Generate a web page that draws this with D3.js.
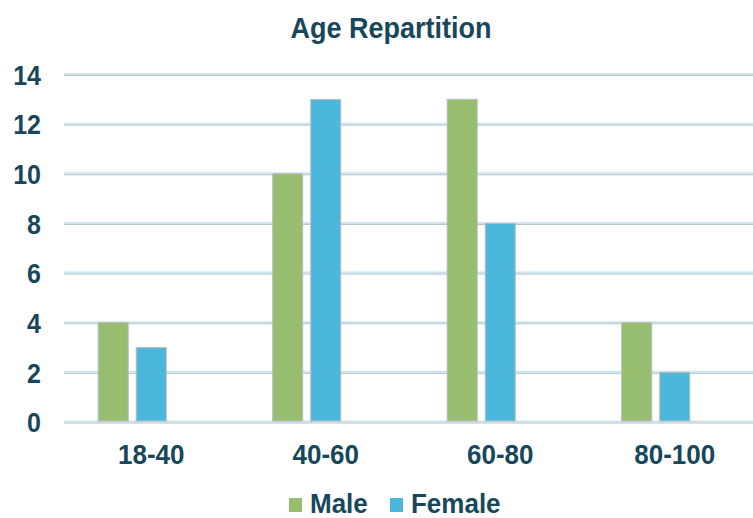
<!DOCTYPE html>
<html>
<head>
<meta charset="utf-8">
<script src="https://cdn.jsdelivr.net/npm/d3@7"></script>
<style>
  html, body { margin: 0; padding: 0; background: #fff; }
  svg { display: block; font-family: "Liberation Sans", Arial, sans-serif; font-weight: bold; }
</style>
</head>
<body>
<svg id="chart" width="753" height="518"></svg>
<script>
// Age groups along the x axis
const categories = ["18-40", "40-60", "60-80", "80-100"];
// Series names and their counts per age group
const seriesNames = ["Male", "Female"];
const maleValues = [4, 10, 13, 4];
const femaleValues = [3, 13, 8, 2];
// Value axis ticks
const yTicks = [0, 2, 4, 6, 8, 10, 12, 14];
const titleText = "Age Repartition";

const seriesValues = [maleValues, femaleValues];
const colors = ["#96BE6E", "#4BB8DB"];
const textColor = "#17475A";
const stretch = "scale(1,1.08)";

const svg = d3.select("#chart");
const W = 753, H = 518;

// Plot region (the category bands run slightly past the right edge)
const plot = { left: 64, right: 762, top: 74.5, bottom: 422 };

const x0 = d3.scaleBand()
  .domain(categories)
  .range([plot.left, plot.right])
  .paddingInner(0.386)
  .paddingOuter(0.193);

// Three slots per cluster; the third stays empty
const x1 = d3.scaleBand()
  .domain([0, 1, 2])
  .range([0, x0.bandwidth()])
  .paddingInner(0.185);

const y = d3.scaleLinear()
  .domain([0, 14])
  .range([plot.bottom, plot.top]);

// Title
svg.append("g")
  .attr("transform", `translate(391,38) ${stretch}`)
  .append("text")
  .attr("text-anchor", "middle")
  .attr("fill", textColor)
  .style("font-size", "27px")
  .text(titleText);

// Gridlines
const grid = svg.append("g");
grid.selectAll("line.g1")
  .data(yTicks)
  .join("line")
  .attr("class", "g1")
  .attr("x1", plot.left).attr("x2", W)
  .attr("y1", d => y(d) - 0.5).attr("y2", d => y(d) - 0.5)
  .attr("stroke", "#D0E4EC")
  .attr("stroke-width", 2);
grid.selectAll("line.g2")
  .data(yTicks)
  .join("line")
  .attr("class", "g2")
  .attr("x1", plot.left).attr("x2", W)
  .attr("y1", d => y(d) + 1).attr("y2", d => y(d) + 1)
  .attr("stroke", "#AFC4CE")
  .attr("stroke-width", 1);

// Y axis labels
const yAxis = d3.axisLeft(y).tickValues(yTicks).tickSize(0).tickPadding(0);
const yg = svg.append("g")
  .attr("transform", `translate(${plot.left - 23},0)`)
  .call(yAxis);
yg.select(".domain").remove();
yg.selectAll("text")
  .attr("fill", textColor)
  .attr("dy", "0.36em")
  .attr("transform", stretch)
  .style("font-size", "25px")
  .style("font-family", "'Liberation Sans', Arial, sans-serif")
  .style("font-weight", "bold");

// Bars
const groups = svg.append("g")
  .selectAll("g")
  .data(categories)
  .join("g")
  .attr("transform", d => `translate(${x0(d)},0)`);

groups.selectAll("rect")
  .data((d, i) => seriesValues.map((vals, s) => ({ s, v: vals[i] })))
  .join("rect")
  .attr("x", d => x1(d.s) + 0.5)
  .attr("width", x1.bandwidth() - 1)
  .attr("y", d => y(d.v))
  .attr("height", d => y(0) - y(d.v) - 1)
  .attr("fill", d => colors[d.s])
  .attr("stroke", "#B8BCBE")
  .attr("stroke-width", 1);

// X axis labels
const xAxis = d3.axisBottom(x0).tickSize(0).tickPadding(0);
const xg = svg.append("g")
  .attr("transform", `translate(0,${plot.bottom + 42})`)
  .call(xAxis);
xg.select(".domain").remove();
xg.selectAll("text")
  .attr("fill", textColor)
  .attr("dy", 0)
  .attr("transform", stretch)
  .style("font-size", "26px")
  .style("font-family", "'Liberation Sans', Arial, sans-serif")
  .style("font-weight", "bold");

// Legend
const legendX = [289, 390];
const legend = svg.append("g");
seriesNames.forEach((name, i) => {
  legend.append("rect")
    .attr("x", legendX[i])
    .attr("y", 498)
    .attr("width", 13)
    .attr("height", 14)
    .attr("fill", colors[i]);
  legend.append("g")
    .attr("transform", `translate(${legendX[i] + 21},513) ${stretch}`)
    .append("text")
    .attr("fill", textColor)
    .style("font-size", "26px")
    .text(name);
});
</script>
</body>
</html>
